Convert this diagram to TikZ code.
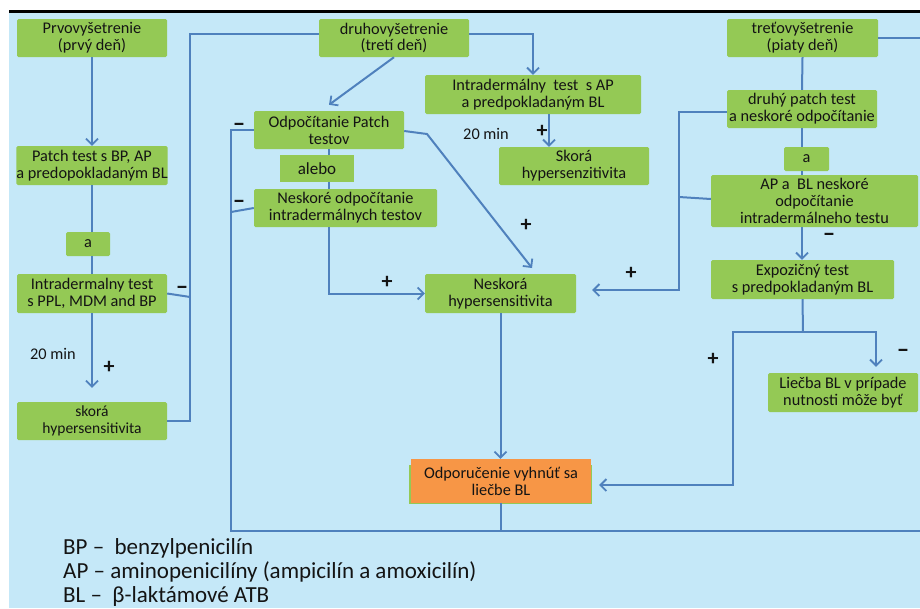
\documentclass[tikz,border=0pt]{standalone}
\usepackage{fontspec}
\setmainfont{Carlito}
\usetikzlibrary{arrows.meta}
\definecolor{bgblue}{HTML}{C5E8F8}
\definecolor{gfill}{HTML}{94C955}
\definecolor{ofill}{HTML}{F79646}
\definecolor{lblue}{HTML}{4F81BD}
\definecolor{txt}{HTML}{141414}
\begin{document}
\begin{tikzpicture}[x=1pt,y=-1pt,
 gbox/.style={fill=gfill, rounded corners=1.5pt, inner sep=0pt, align=center, text=txt, font=\fontsize{16.3}{16.8}\selectfont},
 obox/.style={gbox, fill=ofill, rounded corners=0pt},
 conn/.style={draw=lblue, line width=2pt},
 arr/.style={conn, -{Straight Barb[length=6pt,width=12pt,line width=1.8pt]}},
 sign/.style={font=\fontsize{22}{22}\selectfont\bfseries, inner sep=0pt, text=txt},
 minus/.style={font=\fontsize{25}{25}\selectfont\bfseries, inner sep=0pt, text=txt},
 lbl/.style={font=\fontsize{16.3}{17}\selectfont, inner sep=0pt, text=txt},
 leg/.style={font=\fontsize{23}{24}\selectfont, inner sep=0pt, anchor=west, text=txt}]
\useasboundingbox (0,0) rectangle (920,608);
\fill[white] (0,0) rectangle (920,608);
\fill[bgblue] (9,12) rectangle (920,608);
\fill[black] (9,10) rectangle (920,13);

% boxes
\node[gbox, minimum width=150pt, minimum height=38pt] (p1) at (92,38) {Prvovyšetrenie\\(prvý deň)};
\node[gbox, minimum width=150pt, minimum height=38pt] (d1) at (394,38) {druhovyšetrenie\\(tretí deň)};
\node[gbox, minimum width=151pt, minimum height=38pt] (t1) at (802.5,38) {treťovyšetrenie\\(piaty deň)};
\node[gbox, minimum width=150pt, minimum height=39pt] (pt) at (92,165.5) {Patch test s BP, AP\\a predopokladaným BL};
\node[gbox, minimum width=44pt, minimum height=24pt] (a1) at (88,244) {a};
\node[gbox, minimum width=150pt, minimum height=39pt] (id1) at (92,293.5) {Intradermalny test\\s PPL, MDM and BP};
\node[gbox, minimum width=150pt, minimum height=38pt, font=\fontsize{15.5}{16.8}\selectfont] (sk1) at (92,421) {skorá\\hypersensitivita};
\node[gbox, minimum width=216pt, minimum height=39pt] (ida) at (533,94.5) {Intradermálny\ \ test\ \ s AP\\a predpokladaným BL};
\node[gbox, minimum width=150pt, minimum height=38pt] (ska) at (574,166) {Skorá\\hypersenzitivita};
\node[gbox, minimum width=150pt, minimum height=38pt] (op) at (329,130) {Odpočítanie Patch\\testov};
\node[gbox, rounded corners=0pt, minimum width=74pt, minimum height=27pt, font=\fontsize{17}{17}\selectfont] (al) at (317,168.5) {alebo};
\node[gbox, minimum width=183pt, minimum height=38pt] (no) at (345.5,208) {Neskoré odpočítanie\\intradermálnych testov};
\node[gbox, minimum width=151pt, minimum height=39pt] (nh) at (500.5,293.5) {Neskorá\\hypersensitivita};
\fill[gfill] (409,465) rectangle (592,504);
\node[obox, minimum width=180pt, minimum height=44pt] (or) at (501,481) {Odporučenie vyhnúť sa\\liečbe BL};
\node[gbox, minimum width=150pt, minimum height=38pt] (dp) at (802,109) {druhý patch test\\a neskoré odpočítanie};
\node[gbox, minimum width=45pt, minimum height=24pt] (a2) at (806.5,159) {a};
\node[gbox, minimum width=207pt, minimum height=52pt] (ap) at (814.5,201) {AP a\ \ BL neskoré\\odpočítanie\\intradermálneho testu};
\node[gbox, minimum width=183pt, minimum height=39pt] (ex) at (802.5,279.5) {Expozičný test\\s predpokladaným BL};
\node[gbox, minimum width=150pt, minimum height=39pt] (li) at (843,392.5) {Liečba BL v prípade\\nutnosti môže byť};

\coordinate (B) at (231,531);
\coordinate (J) at (803,332);
\coordinate (R) at (679,290);

% connectors: left column
\draw[arr] (p1.south) -- (pt.north);
\draw[conn] (pt.south) -- (pt.south |- a1.north);
\draw[conn] (pt.south |- a1.south) -- (id1.north);
\draw[arr, shorten >=14pt] (id1.south) -- (sk1.north);
\draw[conn] (sk1.east) -- ++(23,0) |- ([yshift=4pt]d1.west);
\draw[conn] (id1.east) -- ++(23,3.5);
% middle
\draw[arr] ([yshift=4pt]d1.east) -| (ida.north);
\draw[arr] ([xshift=16pt]ida.south) -- ([xshift=16pt]ida.south |- ska.north);
\draw[arr] (d1.south) -- ([yshift=6pt]op.north);
\draw[conn] (op.south) -- (op.south |- al.north);
\draw[conn] (op.south |- al.south) -- (op.south |- no.north);
\draw[arr] (op.south |- no.south) |- (nh.west);
\draw[conn] (op.west) -| (B) -- (920,531);
\draw[conn] (no.west) -- (231,212);
\draw[arr] ([yshift=-1pt]op.east) -- (427,134) -- (532,268);
\draw[arr] (nh.south) -- (nh.south |- or.north);
\draw[conn] (or.south) -- (or.south |- B);
% right column
\draw[conn] (t1.east) -- (920,38);
\draw[conn] (t1.south) -- (dp.north);
\draw[conn] (dp.south) -- (dp.south |- a2.north);
\draw[conn] (dp.south |- a2.south) -- (dp.south |- ap.north);
\draw[arr] (dp.south |- ap.south) -- (dp.south |- ex.north);
\draw[arr] ([yshift=-3pt]dp.west) -| (R) -- ([xshift=16pt,yshift=3.5pt]nh.east);
\draw[conn] ([yshift=2pt]ap.west) -- (679,197);
\draw[conn] (ex.south) -- (J);
\draw[arr] (J) -| ([xshift=33pt,yshift=6pt]li.north);
\draw[arr] (J) -- (733,332) |- ([xshift=8pt,yshift=-4pt]or.east);

% signs and labels
\node[minus] (m1) at (182,290) {–};
\node[minus] (m2) at (239,127) {–};
\node[minus] (m3) at (239,204) {–};
\node[minus] (m4) at (829,237) {–};
\node[minus] (m5) at (903,353) {–};
\node[sign] (s1) at (109,367) {+};
\node[sign] (s2) at (542,131) {+};
\node[sign] (s3) at (526,225) {+};
\node[sign] (s4) at (387,282) {+};
\node[sign] (s5) at (631,273) {+};
\node[sign] (s6) at (713,359) {+};
\node[lbl] (t20a) at (53,354) {20 min};
\node[lbl] (t20b) at (486,134) {20 min};

% legend
\node[leg] (l1) at (63,548) {BP –\ \ benzylpenicilín};
\node[leg] (l2) at (63,572) {AP – aminopenicilíny (ampicilín a amoxicilín)};
\node[leg] (l3) at (63,596) {BL –\ \ β-laktámové ATB};
\end{tikzpicture}
\end{document}
